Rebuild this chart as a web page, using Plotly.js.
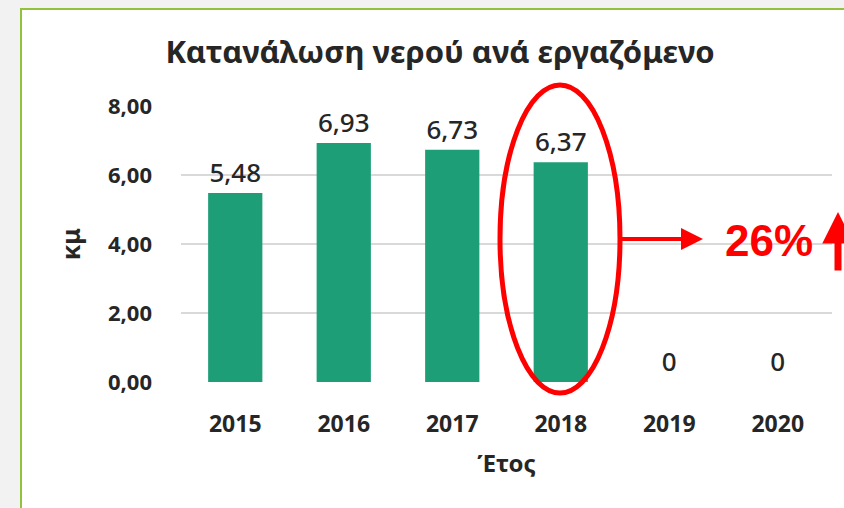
<!DOCTYPE html>
<html>
<head>
<meta charset="utf-8">
<script src="https://cdn.plot.ly/plotly-3.0.1.min.js"></script>
<style>html,body{margin:0;padding:0;background:#f2f2f2;}#chart{width:844px;height:508px;}</style>
</head>
<body>
<div id="chart"></div>
<script>
const years = ['2015', '2016', '2017', '2018', '2019', '2020'];
const values = [5.48, 6.93, 6.73, 6.37, 0, 0];
const yTicks = [0, 2, 4, 6, 8];
const yTickLabels = ['0,00', '2,00', '4,00', '6,00', '8,00'];

const W = 844, H = 508, L = 181, R = 832, T = 106, B = 382;
const px = v => (v - L) / (R - L);
const py = v => (B - v) / (B - T);

const labels = values.map(v => v === 0 ? '0' : v.toFixed(2).replace('.', ','));
const font = '"Noto Sans", "Open Sans", sans-serif';

const trace = {
  type: 'bar',
  x: years,
  y: values,
  text: labels,
  textposition: 'outside',
  cliponaxis: false,
  textfont: {family: font, size: 26, color: '#262626', weight: 500},
  marker: {color: '#1e9e77', line: {width: 0}},
  hoverinfo: 'skip'
};

const layout = {
  width: W, height: H,
  margin: {l: L, r: W - R, t: T, b: H - B},
  paper_bgcolor: '#f2f2f2',
  plot_bgcolor: 'rgba(0,0,0,0)',
  separators: ',.',
  bargap: 0.5,
  showlegend: false,
  title: {
    text: '<b>Κατανάλωση νερού ανά εργαζόμενο</b>',
    font: {family: font, size: 31, color: '#262626'},
    xref: 'container', x: 440 / W, xanchor: 'center',
    yref: 'container', y: 1 - 52 / H, yanchor: 'middle'
  },
  xaxis: {
    type: 'category',
    showgrid: false, zeroline: false, showline: false, ticks: '',
    tickfont: {family: font, size: 23, color: '#262626', weight: 'bold'},
    ticklabelstandoff: 26,
    title: {text: '<b>Έτος</b>', font: {family: font, size: 24, color: '#262626'}, standoff: 17}
  },
  yaxis: {
    range: [0, 8],
    tickvals: yTicks, ticktext: yTickLabels,
    showgrid: true, gridcolor: '#d9d9d9', gridwidth: 1.5,
    zeroline: false, showline: false, ticks: '',
    tickfont: {family: font, size: 22, color: '#262626', weight: 'bold'},
    ticklabelstandoff: 28,
    title: {text: '<b>κμ</b>', font: {family: font, size: 25, color: '#262626'}, standoff: 20}
  },
  shapes: [
    {type: 'rect', xref: 'paper', yref: 'paper', layer: 'below',
     x0: px(21), x1: px(900), y0: py(560), y1: py(9),
     fillcolor: '#ffffff', line: {color: '#92c13c', width: 2}},
    {type: 'circle', xref: 'paper', yref: 'paper', layer: 'above',
     x0: px(500), x1: px(620), y0: py(393), y1: py(85),
     line: {color: '#ff0000', width: 5}}
  ],
  annotations: [
    {xref: 'paper', yref: 'paper', x: px(703), y: py(239), ax: -83, ay: 0,
     axref: 'pixel', ayref: 'pixel', text: '', showarrow: true,
     arrowhead: 2, arrowsize: 1.1, arrowwidth: 4, arrowcolor: '#ff0000'},
    {xref: 'paper', yref: 'paper', x: px(769), y: py(240), text: '<b>26%</b>',
     showarrow: false, font: {family: 'Liberation Sans, Arial, sans-serif', size: 44, color: '#ff0000'},
     xanchor: 'center', yanchor: 'middle'},
    {xref: 'paper', yref: 'paper', x: px(838), y: py(212), ax: 0, ay: 60,
     axref: 'pixel', ayref: 'pixel', text: '', showarrow: true,
     arrowhead: 2, arrowsize: 0.9, arrowwidth: 7, arrowcolor: '#ff0000'}
  ]
};

Plotly.newPlot('chart', [trace], layout, {displayModeBar: false, staticPlot: true});
</script>
</body>
</html>
